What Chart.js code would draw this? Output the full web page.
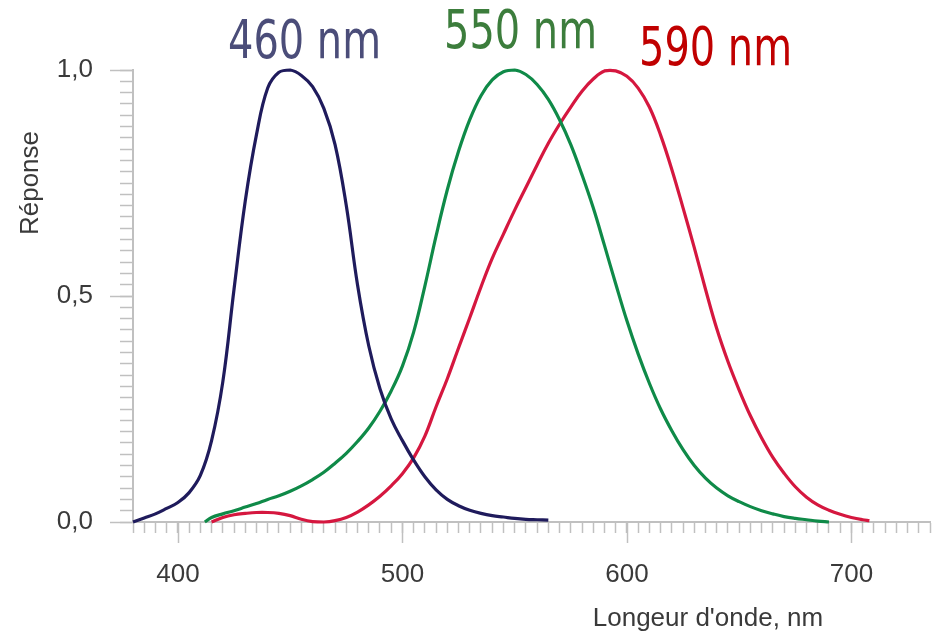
<!DOCTYPE html>
<html>
<head>
<meta charset="utf-8">
<script src="https://cdn.jsdelivr.net/npm/chart.js@4"></script>
<style>
  html, body { margin: 0; padding: 0; background: #fff; }
  #wrap { width: 939px; height: 631px; }
</style>
</head>
<body>
<div id="wrap"><canvas id="chart"></canvas></div>
<script>
// Wavelengths (nm) and responses
const blueNm = [380, 385, 390, 395, 400, 405, 410, 415, 420, 425, 430, 435, 440, 445, 450, 455, 460, 465, 470, 475,
  480, 485, 490, 495, 500, 505, 510, 515, 520, 525, 530, 535, 540, 545, 550, 555, 560, 565];
const blueResp = [0.000, 0.009, 0.018, 0.030, 0.043, 0.065, 0.103, 0.180, 0.310, 0.515, 0.710, 0.857, 0.960, 0.995,
  1.000, 0.988, 0.963, 0.915, 0.835, 0.700, 0.525, 0.390, 0.295, 0.228, 0.180, 0.137, 0.100, 0.071, 0.050, 0.036,
  0.026, 0.019, 0.014, 0.011, 0.008, 0.006, 0.005, 0.004];

const greenNm = [412, 415, 420, 425, 430, 435, 440, 445, 450, 455, 460, 465, 470, 475, 480, 485, 490, 495, 500, 505,
  510, 515, 520, 525, 530, 535, 540, 545, 550, 555, 560, 565, 570, 575, 580, 585, 590, 595, 600, 605, 610, 615, 620,
  625, 630, 635, 640, 645, 650, 655, 660, 665, 670, 675, 680, 685, 690];
const greenResp = [0.000, 0.010, 0.018, 0.025, 0.033, 0.041, 0.050, 0.058, 0.068, 0.080, 0.094, 0.110, 0.130, 0.152,
  0.178, 0.208, 0.245, 0.290, 0.345, 0.420, 0.522, 0.633, 0.735, 0.820, 0.890, 0.943, 0.978, 0.996, 1.000, 0.990,
  0.968, 0.935, 0.890, 0.835, 0.768, 0.695, 0.612, 0.527, 0.445, 0.372, 0.307, 0.250, 0.202, 0.160, 0.125, 0.097,
  0.075, 0.058, 0.045, 0.034, 0.025, 0.018, 0.012, 0.008, 0.005, 0.002, 0.000];

const redNm = [415, 420, 425, 430, 435, 440, 445, 450, 455, 460, 465, 470, 475, 480, 485, 490, 495, 500, 505, 510,
  515, 520, 525, 530, 535, 540, 545, 550, 555, 560, 565, 570, 575, 580, 585, 590, 595, 600, 605, 610, 615, 620, 625,
  630, 635, 640, 645, 650, 655, 660, 665, 670, 675, 680, 685, 690, 695, 700, 705, 708];
const redResp = [0.000, 0.010, 0.016, 0.019, 0.021, 0.021, 0.019, 0.014, 0.006, 0.001, 0.000, 0.003, 0.010, 0.022,
  0.038, 0.057, 0.080, 0.107, 0.142, 0.190, 0.255, 0.317, 0.385, 0.452, 0.520, 0.583, 0.637, 0.690, 0.740, 0.790,
  0.838, 0.880, 0.918, 0.953, 0.980, 0.998, 0.998, 0.986, 0.960, 0.918, 0.856, 0.780, 0.695, 0.607, 0.515, 0.428,
  0.355, 0.292, 0.235, 0.186, 0.143, 0.108, 0.078, 0.055, 0.038, 0.026, 0.017, 0.010, 0.005, 0.003];

const xMajor = [400, 500, 600, 700];
const yMajor = [0, 0.5, 1];
const yTickLabels = ['0,0', '0,5', '1,0'];

const peakLabels = ['460 nm', '550 nm', '590 nm'];
const peakColors = ['#4b4d79', '#3c7d3c', '#c00000'];

const axisColor = '#c0c0c0';
const textColor = '#3a3a3a';

function points(xs, ys) {
  return xs.map((x, i) => ({ x: x, y: ys[i] }));
}

function isMajor(v, list) {
  return list.some(m => Math.abs(v - m) < 1e-6);
}

// longer major ticks, axis titles and the peak labels
const extras = {
  id: 'extras',
  afterDraw(chart) {
    const ctx = chart.ctx;
    const xs = chart.scales.x;
    const ys = chart.scales.y;
    const area = chart.chartArea;
    ctx.save();
    ctx.strokeStyle = axisColor;
    ctx.lineWidth = 1.5;
    xMajor.forEach(v => {
      const px = Math.round(xs.getPixelForValue(v)) + 0.5;
      ctx.beginPath();
      ctx.moveTo(px, area.bottom);
      ctx.lineTo(px, area.bottom + 21);
      ctx.stroke();
    });
    yMajor.forEach(v => {
      const py = Math.round(ys.getPixelForValue(v)) + 0.5;
      ctx.beginPath();
      ctx.moveTo(area.left - 23, py);
      ctx.lineTo(area.left, py);
      ctx.stroke();
    });

    ctx.fillStyle = textColor;
    ctx.font = '26px "Liberation Sans", Arial, sans-serif';
    ctx.textAlign = 'center';
    ctx.textBaseline = 'alphabetic';
    ctx.fillText("Longeur d'onde, nm", 708, 626);

    ctx.save();
    ctx.translate(38, 183);
    ctx.rotate(-Math.PI / 2);
    ctx.fillText('Réponse', 0, 0);
    ctx.restore();

    // peak labels, squeezed to the narrow face of the original
    const spots = [[228, 58], [444, 48], [639, 65]];
    ctx.font = '53px "DejaVu Sans", sans-serif';
    ctx.textAlign = 'left';
    peakLabels.forEach((t, i) => {
      const w = ctx.measureText(t).width;
      const k = 153 / w;
      ctx.save();
      ctx.translate(spots[i][0], spots[i][1]);
      ctx.scale(k, 1);
      ctx.fillStyle = peakColors[i];
      ctx.fillText(t, 0, 0);
      ctx.restore();
    });
    ctx.restore();
  }
};

const lineStyle = {
  borderWidth: 3.2,
  pointRadius: 0,
  fill: false,
  tension: 0.4,
  clip: false
};

new Chart(document.getElementById('chart'), {
  type: 'line',
  data: {
    datasets: [
      Object.assign({ label: 'S', data: points(blueNm, blueResp), borderColor: '#1f1b5c' }, lineStyle),
      Object.assign({ label: 'M', data: points(greenNm, greenResp), borderColor: '#0f8a48' }, lineStyle),
      Object.assign({ label: 'L', data: points(redNm, redResp), borderColor: '#d5173f' }, lineStyle)
    ]
  },
  options: {
    responsive: true,
    maintainAspectRatio: false,
    animation: false,
    layout: { padding: { left: 0, top: 70, right: 9, bottom: 0 } },
    plugins: {
      legend: { display: false },
      tooltip: { enabled: false }
    },
    scales: {
      x: {
        type: 'linear',
        min: 380,
        max: 735,
        afterFit(scale) {
          scale.height = 109;
          scale.paddingLeft = 0;
          scale.paddingRight = 0;
        },
        border: { color: axisColor, width: 2 },
        grid: { drawOnChartArea: false, drawTicks: true, tickLength: 11, tickColor: axisColor, tickWidth: 1.5 },
        ticks: {
          stepSize: 5,
          autoSkip: false,
          maxRotation: 0,
          padding: 26,
          color: textColor,
          font: { family: '"Liberation Sans", Arial, sans-serif', size: 26 },
          callback: v => isMajor(v, xMajor) ? String(v) : ''
        }
      },
      y: {
        type: 'linear',
        min: 0,
        max: 1,
        afterFit(scale) { scale.width = 133; },
        border: { color: axisColor, width: 2 },
        grid: { drawOnChartArea: false, drawTicks: true, tickLength: 13, tickColor: axisColor, tickWidth: 1.5 },
        ticks: {
          stepSize: 0.025,
          autoSkip: false,
          padding: 27,
          color: textColor,
          font: { family: '"Liberation Sans", Arial, sans-serif', size: 26 },
          callback: v => {
            const i = yMajor.findIndex(m => Math.abs(v - m) < 1e-6);
            return i >= 0 ? yTickLabels[i] : '';
          }
        }
      }
    }
  },
  plugins: [extras]
});
</script>
</body>
</html>
